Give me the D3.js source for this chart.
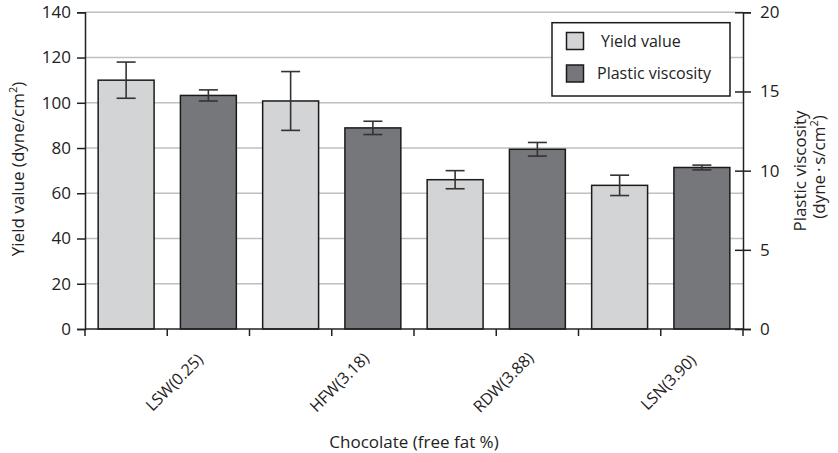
<!DOCTYPE html>
<html>
<head>
<meta charset="utf-8">
<script src="https://cdn.jsdelivr.net/npm/d3@7"></script>
<style>
  html, body { margin: 0; padding: 0; background: #fff; }
  #chart { position: relative; width: 838px; height: 453px; }
  svg text { font-family: 'Open Sans', sans-serif; fill: #222; }
  .xl {
    position: absolute;
    font: 16px 'Open Sans', sans-serif;
    color: #222;
    white-space: nowrap;
    line-height: 1;
    transform: translate(-50%, -50%) rotate(-45deg);
  }
</style>
</head>
<body>
<div id="chart"></div>
<script>
  // ── Data ──
  var categories = ['LSW(0.25)', 'HFW(3.18)', 'RDW(3.88)', 'LSN(3.90)'];
  var yieldValue = [110, 100.8, 66, 63.5];
  var yieldError = [8, 13, 4, 4.5];
  var plasticViscosity = [14.75, 12.7, 11.35, 10.2];
  var plasticError = [0.35, 0.42, 0.43, 0.15];
  var leftTicks = [0, 20, 40, 60, 80, 100, 120, 140];
  var rightTicks = [0, 5, 10, 15, 20];
  var seriesNames = ['Yield value', 'Plastic viscosity'];

  // ── Constants ──
  var WIDTH = 838, HEIGHT = 453;
  var PLOT = { left: 85, right: 743, top: 12.3, bottom: 329 };
  var COLOR_LIGHT = '#d3d4d6';
  var COLOR_DARK = '#76777b';
  var GRID = '#c0c0c0';
  var INK = '#222';
  var CAP = 9.5;

  var container = d3.select('#chart');
  var svg = container.append('svg')
    .attr('width', WIDTH).attr('height', HEIGHT)
    .style('position', 'absolute').style('left', 0).style('top', 0);

  var x = d3.scaleBand().domain(categories).range([PLOT.left, PLOT.right]);
  var xInner = d3.scaleBand().domain([0, 1]).range([0, x.bandwidth()])
    .paddingInner(0.32).paddingOuter(0.16);
  var yLeft = d3.scaleLinear().domain([0, 140]).range([PLOT.bottom, PLOT.top]);
  var yRight = d3.scaleLinear().domain([0, 20]).range([PLOT.bottom, PLOT.top]);

  // gridlines
  svg.append('g').selectAll('line')
    .data(leftTicks.filter(function (d) { return d > 0; }))
    .join('line')
    .attr('x1', PLOT.left).attr('x2', PLOT.right)
    .attr('y1', function (d) { return yLeft(d); })
    .attr('y2', function (d) { return yLeft(d); })
    .attr('stroke', GRID).attr('stroke-width', 1.5);

  // rows: one per category per series
  var rows = [];
  categories.forEach(function (c, i) {
    rows.push({ cat: c, s: 0, y: yLeft(yieldValue[i]), hi: yLeft(yieldValue[i] + yieldError[i]), lo: yLeft(yieldValue[i] - yieldError[i]) });
    rows.push({ cat: c, s: 1, y: yRight(plasticViscosity[i]), hi: yRight(plasticViscosity[i] + plasticError[i]), lo: yRight(plasticViscosity[i] - plasticError[i]) });
  });

  svg.append('g').selectAll('rect')
    .data(rows)
    .join('rect')
    .attr('x', function (d) { return x(d.cat) + xInner(d.s); })
    .attr('width', xInner.bandwidth())
    .attr('y', function (d) { return d.y; })
    .attr('height', function (d) { return PLOT.bottom - d.y; })
    .attr('fill', function (d) { return d.s === 0 ? COLOR_LIGHT : COLOR_DARK; })
    .attr('stroke', '#1a1a1a').attr('stroke-width', 1.5);

  // error bars
  var err = svg.append('g').attr('stroke', '#333').attr('stroke-width', 1.6).attr('fill', 'none');
  rows.forEach(function (d) {
    var cx = x(d.cat) + xInner(d.s) + xInner.bandwidth() / 2;
    err.append('line').attr('x1', cx).attr('x2', cx).attr('y1', d.hi).attr('y2', d.lo);
    err.append('line').attr('x1', cx - CAP).attr('x2', cx + CAP).attr('y1', d.hi).attr('y2', d.hi);
    err.append('line').attr('x1', cx - CAP).attr('x2', cx + CAP).attr('y1', d.lo).attr('y2', d.lo);
  });

  // left axis
  var left = svg.append('g')
    .attr('transform', 'translate(' + PLOT.left + ',0)')
    .call(d3.axisLeft(yLeft).tickValues(leftTicks).tickSize(8).tickPadding(6));
  // right axis (ticks cross the axis line)
  var right = svg.append('g')
    .attr('transform', 'translate(' + PLOT.right + ',0)')
    .call(d3.axisRight(yRight).tickValues(rightTicks).tickSize(8).tickPadding(9));
  right.selectAll('.tick line').attr('x1', -8);

  [left, right].forEach(function (a) {
    a.select('.domain').attr('stroke', INK).attr('stroke-width', 1.5);
    a.selectAll('.tick line').attr('stroke', INK).attr('stroke-width', 1.5);
    a.selectAll('.tick text').attr('font-size', 17).attr('font-family', 'Open Sans').attr('fill', INK);
  });

  // x axis: ticks at slot boundaries
  var xTickPos = [];
  categories.forEach(function (c) {
    xTickPos.push(x(c));
    xTickPos.push(x(c) + x.bandwidth() / 2);
  });
  xTickPos.push(PLOT.right);

  var xAxis = svg.append('g');
  xAxis.append('line')
    .attr('x1', PLOT.left).attr('x2', PLOT.right)
    .attr('y1', PLOT.bottom).attr('y2', PLOT.bottom)
    .attr('stroke', INK).attr('stroke-width', 1.5);
  xAxis.selectAll('.xt').data(xTickPos).join('line')
    .attr('class', 'xt')
    .attr('x1', function (d) { return d; }).attr('x2', function (d) { return d; })
    .attr('y1', PLOT.bottom).attr('y2', PLOT.bottom + 7)
    .attr('stroke', INK).attr('stroke-width', 1.5);

  // category labels, rotated -45 deg (HTML overlay)
  container.selectAll('.xl').data(categories).join('div')
    .attr('class', 'xl')
    .style('left', function (d) { return (x(d) + x.bandwidth() / 2 + 7) + 'px'; })
    .style('top', '382px')
    .text(function (d) { return d; });

  // axis titles
  svg.append('text')
    .attr('x', (PLOT.left + PLOT.right) / 2).attr('y', 448)
    .attr('text-anchor', 'middle').attr('font-size', 17)
    .text('Chocolate (free fat %)');

  var lt = svg.append('text')
    .attr('transform', 'translate(24,169) rotate(-90)')
    .attr('text-anchor', 'middle').attr('font-size', 17);
  lt.append('tspan').text('Yield value (dyne/cm');
  lt.append('tspan').attr('baseline-shift', 'super').attr('font-size', 11).text('2');
  lt.append('tspan').text(')');

  svg.append('text')
    .attr('transform', 'translate(806,171) rotate(-90)')
    .attr('text-anchor', 'middle').attr('font-size', 17)
    .text('Plastic viscosity');
  var rt = svg.append('text')
    .attr('transform', 'translate(825,167) rotate(-90)')
    .attr('text-anchor', 'middle').attr('font-size', 17);
  rt.append('tspan').text('(dyne\u2009\u00b7\u2009s/cm');
  rt.append('tspan').attr('baseline-shift', 'super').attr('font-size', 11).text('2');
  rt.append('tspan').text(')');

  // legend
  var legend = svg.append('g');
  legend.append('rect')
    .attr('x', 552).attr('y', 22.7).attr('width', 178).attr('height', 73.3)
    .attr('fill', '#fff').attr('stroke', '#1a1a1a').attr('stroke-width', 1.5);
  var legendY = [41, 73.5];
  var legendTextX = [601, 597];
  seriesNames.forEach(function (name, i) {
    legend.append('rect')
      .attr('x', 566.5).attr('y', legendY[i] - 8.5).attr('width', 17).attr('height', 17)
      .attr('fill', i === 0 ? COLOR_LIGHT : COLOR_DARK)
      .attr('stroke', '#1a1a1a').attr('stroke-width', 1.5);
    legend.append('text')
      .attr('x', legendTextX[i]).attr('y', legendY[i])
      .attr('dy', '0.35em').attr('font-size', 16)
      .text(name);
  });
</script>
</body>
</html>
